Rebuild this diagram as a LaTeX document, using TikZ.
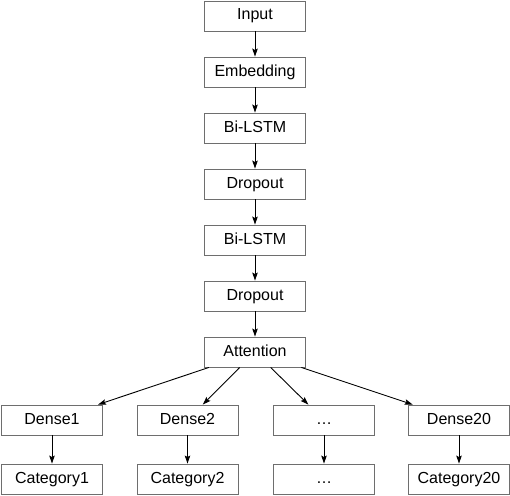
\documentclass[tikz,border=0pt]{standalone}
\usepackage{fontspec}
\setmainfont{Liberation Sans}
\usetikzlibrary{arrows.meta}
\definecolor{boxgray}{RGB}{110,110,110}

\begin{document}
\begin{tikzpicture}[x=1pt, y=-1pt,
    layerbox/.style={rectangle, draw=boxgray, line width=0.9pt, fill=white,
        minimum width=101pt, minimum height=30pt, inner sep=0pt,
        text height=11.5pt, text depth=3.5pt,
        font=\fontsize{16}{19}\selectfont},
    arr/.style={-{Stealth[length=8pt,width=5.5pt,inset=1.5pt]}, line width=0.9pt}
]
    \useasboundingbox (0,0) rectangle (510,495);

    % Main stack
    \node[layerbox] (in) at (255,16) {Input};
    \node[layerbox] (emb) at (255,72) {Embedding};
    \node[layerbox] (lstm1) at (255,128) {Bi-LSTM};
    \node[layerbox] (drop1) at (255,184) {Dropout};
    \node[layerbox] (lstm2) at (255,240) {Bi-LSTM};
    \node[layerbox] (drop2) at (255,296) {Dropout};
    \node[layerbox] (att) at (255,352) {Attention};
    \draw[arr] (in) -- (emb);
    \draw[arr] (emb) -- (lstm1);
    \draw[arr] (lstm1) -- (drop1);
    \draw[arr] (drop1) -- (lstm2);
    \draw[arr] (lstm2) -- (drop2);
    \draw[arr] (drop2) -- (att);

    % Output heads
    \node[layerbox] (d1) at (52,420) {Dense1};
    \node[layerbox] (d2) at (187.5,420) {Dense2};
    \node[layerbox] (dx) at (324,420) {…};
    \node[layerbox] (d20) at (459,420) {Dense20};
    \node[layerbox] (c1) at (52,479) {Category1};
    \node[layerbox] (c2) at (187.5,479) {Category2};
    \node[layerbox] (cx) at (324,479) {…};
    \node[layerbox] (c20) at (459,479) {Category20};
    \draw[arr] (att) -- (d1);
    \draw[arr] (att) -- (d2);
    \draw[arr] (att) -- (dx);
    \draw[arr] (att) -- (d20);
    \draw[arr] (d1) -- (c1);
    \draw[arr] (d2) -- (c2);
    \draw[arr] (dx) -- (cx);
    \draw[arr] (d20) -- (c20);
\end{tikzpicture}
\end{document}
